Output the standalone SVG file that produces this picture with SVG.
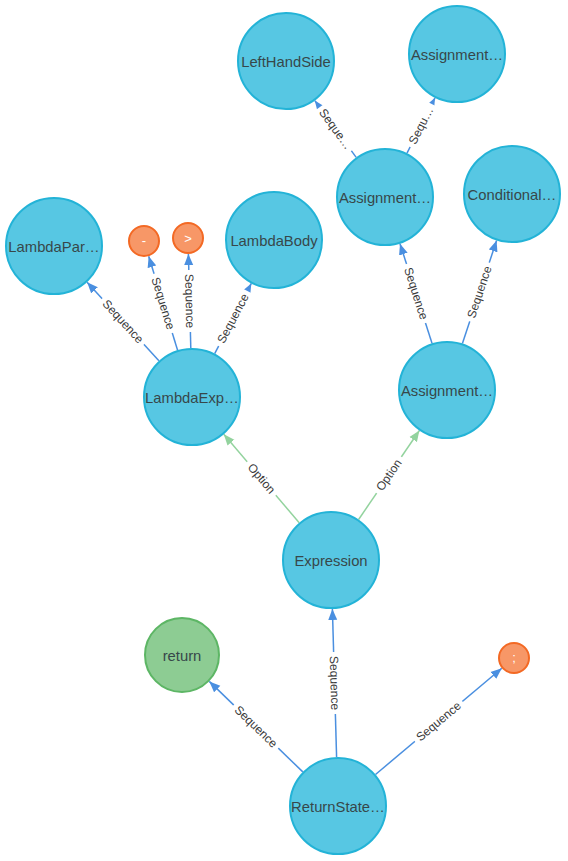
<svg xmlns="http://www.w3.org/2000/svg" width="568" height="861" viewBox="0 0 568 861">
<defs>
<style>
.n circle{stroke-width:2}
.blue circle{fill:#57C7E3;stroke:#23B3D7}
.org circle{fill:#F79767;stroke:#F36924}
.grn circle{fill:#8DCC93;stroke:#5DB665}
.n text{font-family:"Liberation Sans",Arial,sans-serif;font-size:14.8px;fill:#37474a;text-anchor:middle}
.org text{fill:#fff;font-size:13px}
.e{stroke-width:1.5;fill:none}
.seq{stroke:#4A8FE0;marker-end:url(#ab)}
.opt{stroke:#93D39E;marker-end:url(#ag)}
.lb rect{fill:#fff}
.lb text{font-family:"Liberation Sans",Arial,sans-serif;font-size:12px;fill:#3a3a3a;text-anchor:middle}
</style>
<marker id="ab" markerUnits="userSpaceOnUse" markerWidth="12" markerHeight="10" refX="11" refY="5" orient="auto"><path d="M0,0.5 L11,5 L0,9.5 Z" fill="#4A8FE0"/></marker>
<marker id="ag" markerUnits="userSpaceOnUse" markerWidth="12" markerHeight="10" refX="11" refY="5" orient="auto"><path d="M0,0.5 L11,5 L0,9.5 Z" fill="#93D39E"/></marker>
</defs>
<rect width="568" height="861" fill="#fff"/>
<g id="connectors">
<line class="e seq" x1="302.8" y1="771.9" x2="209.3" y2="681.4"/>
<line class="e seq" x1="336.6" y1="757" x2="332.4" y2="609"/>
<line class="e seq" x1="375.5" y1="774.5" x2="501.8" y2="668.3"/>
<line class="e opt" x1="299.2" y1="522.7" x2="223.8" y2="434.3"/>
<line class="e opt" x1="358.6" y1="519.5" x2="419.4" y2="430.5"/>
<line class="e seq" x1="158.9" y1="360.8" x2="87.1" y2="282.2"/>
<line class="e seq" x1="177.6" y1="350.2" x2="148.7" y2="256.3"/>
<line class="e seq" x1="190.8" y1="348" x2="188.4" y2="254"/>
<line class="e seq" x1="214.7" y1="353.6" x2="251.3" y2="283.4"/>
<line class="e seq" x1="432" y1="343.3" x2="400" y2="243.7"/>
<line class="e seq" x1="462.4" y1="343.5" x2="496.6" y2="240.5"/>
<line class="e seq" x1="356.2" y1="157.4" x2="314.8" y2="100.6"/>
<line class="e seq" x1="407" y1="153.2" x2="435" y2="97.8"/>
<g class="lb" transform="translate(256,726.6) rotate(44.07)"><rect x="-31" y="-6" width="62" height="12"/><text y="4">Sequence</text></g>
<g class="lb" transform="translate(334.5,683) rotate(88.4)"><rect x="-31" y="-6" width="62" height="12"/><text y="4">Sequence</text></g>
<g class="lb" transform="translate(438.6,721.4) rotate(-40.06)"><rect x="-31" y="-6" width="62" height="12"/><text y="4">Sequence</text></g>
<g class="lb" transform="translate(261.5,478.5) rotate(49.5)"><rect x="-22" y="-6" width="44" height="12"/><text y="4">Option</text></g>
<g class="lb" transform="translate(389,475) rotate(-55.7)"><rect x="-22" y="-6" width="44" height="12"/><text y="4">Option</text></g>
<g class="lb" transform="translate(123,321.5) rotate(47.6)"><rect x="-31" y="-6" width="62" height="12"/><text y="4">Sequence</text></g>
<g class="lb" transform="translate(163.1,303.3) rotate(72.9)"><rect x="-31" y="-6" width="62" height="12"/><text y="4">Sequence</text></g>
<g class="lb" transform="translate(189.6,301) rotate(88.6)"><rect x="-31" y="-6" width="62" height="12"/><text y="4">Sequence</text></g>
<g class="lb" transform="translate(233,318.5) rotate(-62.4)"><rect x="-31" y="-6" width="62" height="12"/><text y="4">Sequence</text></g>
<g class="lb" transform="translate(416,293.5) rotate(72.2)"><rect x="-31" y="-6" width="62" height="12"/><text y="4">Sequence</text></g>
<g class="lb" transform="translate(479.5,292) rotate(-71.65)"><rect x="-31" y="-6" width="62" height="12"/><text y="4">Sequence</text></g>
<g class="lb" transform="translate(335.5,129) rotate(53.95)"><rect x="-27" y="-6" width="54" height="12"/><text y="4">Seque…</text></g>
<g class="lb" transform="translate(421,125.5) rotate(-63.3)"><rect x="-24" y="-6" width="48" height="12"/><text y="4">Sequ…</text></g>
</g>
<g id="n-lefthandside" class="n blue"><circle cx="286" cy="61" r="48"/><text x="286" y="67">LeftHandSide</text></g>
<g id="n-assign-top" class="n blue"><circle cx="457" cy="54" r="48"/><text x="457" y="60">Assignment…</text></g>
<g id="n-assign-mid" class="n blue"><circle cx="385" cy="197" r="48"/><text x="385" y="203">Assignment…</text></g>
<g id="n-conditional" class="n blue"><circle cx="512" cy="194" r="48"/><text x="512" y="200">Conditional…</text></g>
<g id="n-lambdapar" class="n blue"><circle cx="54" cy="246" r="48"/><text x="54" y="252">LambdaPar…</text></g>
<g id="n-minus" class="n org"><circle cx="144" cy="241" r="15"/><text x="144" y="245">-</text></g>
<g id="n-gt" class="n org"><circle cx="188" cy="238" r="15"/><text x="188" y="243">&gt;</text></g>
<g id="n-lambdabody" class="n blue"><circle cx="274" cy="240" r="48"/><text x="274" y="246">LambdaBody</text></g>
<g id="n-lambdaexp" class="n blue"><circle cx="192" cy="397" r="48"/><text x="192" y="403">LambdaExp…</text></g>
<g id="n-assign-low" class="n blue"><circle cx="447" cy="390" r="48"/><text x="447" y="396">Assignment…</text></g>
<g id="n-expression" class="n blue"><circle cx="331" cy="560" r="48"/><text x="331" y="566">Expression</text></g>
<g id="n-return" class="n grn"><circle cx="182" cy="655" r="37"/><text x="182" y="661">return</text></g>
<g id="n-semicolon" class="n org"><circle cx="514" cy="658" r="15"/><text x="514" y="662">;</text></g>
<g id="n-returnstate" class="n blue"><circle cx="338" cy="806" r="48"/><text x="338" y="812">ReturnState…</text></g>
</svg>
